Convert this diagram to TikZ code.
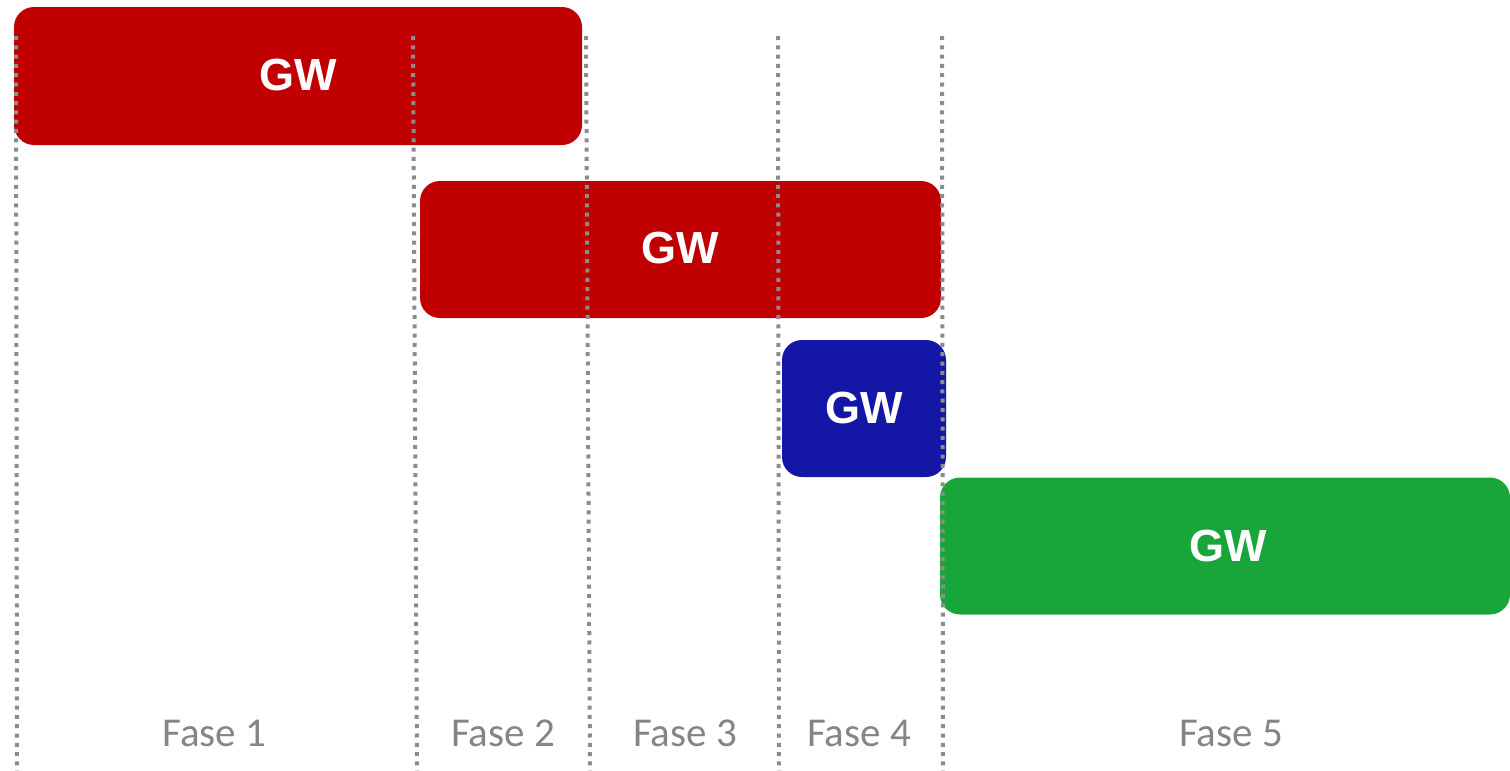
\documentclass[tikz,border=0pt]{standalone}
\usepackage{fontspec}
\newfontfamily\gwfont{Liberation Sans}
\newfontfamily\fasefont{Carlito}
\definecolor{gwred}{HTML}{C00000}
\definecolor{gwblue}{HTML}{1417A6}
\definecolor{gwgreen}{HTML}{18A63B}
\definecolor{dotgray}{HTML}{8C8C8C}
\definecolor{labgray}{HTML}{858585}
\begin{document}
\begin{tikzpicture}[x=1pt,y=-1pt,
  gwbox/.style={rectangle,rounded corners=20pt,inner sep=0pt,
    text=white,font=\gwfont\bfseries\fontsize{45}{45}\selectfont},
  faselab/.style={inner sep=0pt,text=labgray,font=\fasefont\fontsize{41}{41}\selectfont},
  divider/.style={draw=dotgray,line width=4pt,dash pattern=on 4pt off 5.3pt}]
\useasboundingbox (0,0) rectangle (1510,771);
\node[gwbox,fill=gwred,minimum width=568pt,minimum height=138pt] (b1) at (298,76) {};
\node[gwbox,fill=gwred,minimum width=521pt,minimum height=137pt] (b2) at (680.5,249.5) {};
\node[gwbox,fill=gwblue,minimum width=164pt,minimum height=137pt] (b3) at (864,408.5) {};
\node[gwbox,fill=gwgreen,minimum width=570pt,minimum height=137pt] (b4) at (1225,546) {};
\node[gwbox] (t1) at (298,75) {GW};
\node[gwbox] (t2) at (680,248) {GW};
\node[gwbox] (t3) at (864,408) {GW};
\node[gwbox] (t4) at (1228,546) {GW};
\coordinate (d1a) at (16,36); \coordinate (d1b) at (17,771);
\coordinate (d2a) at (413,36); \coordinate (d2b) at (417,771);
\coordinate (d3a) at (586,36); \coordinate (d3b) at (590,771);
\coordinate (d4a) at (778,36); \coordinate (d4b) at (779,771);
\coordinate (d5a) at (942,36); \coordinate (d5b) at (943,771);
\foreach \i in {1,...,5} {\draw[divider] (d\i a) -- (d\i b);}
\node[faselab,anchor=base] (f1) at (214.5,746) {Fase 1};
\node[faselab,anchor=base] (f2) at (503,746) {Fase 2};
\node[faselab,anchor=base] (f3) at (685,746) {Fase 3};
\node[faselab,anchor=base] (f4) at (859,746) {Fase 4};
\node[faselab,anchor=base] (f5) at (1231,746) {Fase 5};
\end{tikzpicture}
\end{document}
